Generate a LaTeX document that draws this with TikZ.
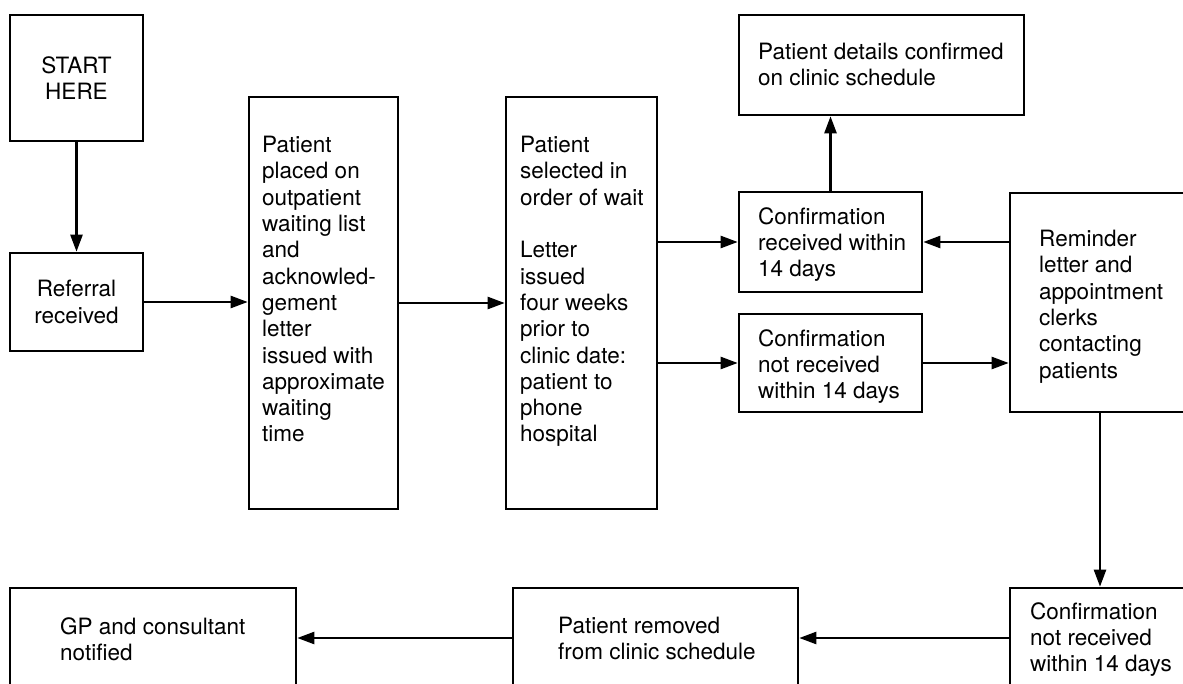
\documentclass[tikz,border=0pt]{standalone}
\usepackage{fontspec}
\setmainfont{TeX Gyre Heros}
\usetikzlibrary{arrows.meta}
\begin{document}
\begin{tikzpicture}[x=1pt,y=-1pt,
  box/.style={draw, line width=2.6pt, inner sep=0pt, rectangle},
  txt/.style={anchor=north west, align=left, inner sep=0pt, font=\fontsize{22.5}{26.3}\selectfont},
  ctxt/.style={align=center, font=\fontsize{22.5}{26.3}\selectfont},
  conn/.style={line width=2.4pt, -{Triangle[length=17pt,width=12pt]}}]
\useasboundingbox (0,0) rectangle (1183,684);
\fill[white] (0,0) rectangle (1183,684);
\clip (0,0) rectangle (1183,684);

% boxes
\node[box, ctxt, minimum width=133pt, minimum height=126pt] (start) at (76.5,78) {START\\HERE};
\node[box, ctxt, minimum width=133pt, minimum height=98pt] (ref) at (76.5,302) {Referral\\received};
\node[box, minimum width=149pt, minimum height=412pt] (placed) at (323.5,303) {};
\node[box, minimum width=151pt, minimum height=412pt] (sel) at (581.5,303) {};
\node[box, minimum width=285pt, minimum height=100pt] (details) at (881.5,65) {};
\node[box, minimum width=183pt, minimum height=100pt] (rec) at (830.5,242) {};
\node[box, minimum width=183pt, minimum height=98pt] (notrec) at (830.5,363) {};
\node[box, minimum width=180pt, minimum height=219pt] (rem) at (1100,302.5) {};
\node[box, minimum width=180pt, minimum height=100pt] (conf3) at (1100,638) {};
\node[box, minimum width=285pt, minimum height=100pt] (removed) at (655.5,638) {};
\node[box, minimum width=286pt, minimum height=100pt] (gp) at (153,638) {};

% texts
\node[txt] (placedtxt) at (262,136) {Patient\\placed on\\outpatient\\waiting list\\and\\acknowled-\\gement\\letter\\issued with\\approximate\\waiting\\time};
\node[txt] (seltxt) at (520,136) {Patient\\selected in\\order of wait\\[26.3pt]Letter\\issued\\four weeks\\prior to\\clinic date:\\patient to\\phone\\hospital};
\node[txt] (detailstxt) at (758,43) {Patient details confirmed\\on clinic schedule};
\node[txt] (rectxt) at (758,207) {Confirmation\\received within\\14 days};
\node[txt] (notrectxt) at (758,329) {Confirmation\\not received\\within 14 days};
\node[txt] (remtxt) at (1039,230) {Reminder\\letter and\\appointment\\clerks\\contacting\\patients};
\node[txt] (conf3txt) at (1030,602) {Confirmation\\not received\\within 14 days};
\node[txt] (removedtxt) at (558,617) {Patient removed\\from clinic schedule};
\node[txt] (gptxt) at (60,617) {GP and consultant\\notified};

% connectors
\draw[conn] (start.south) -- (ref.north);
\draw[conn] (ref.east) -- (ref.east -| placed.west);
\draw[conn] (placed.east) -- (sel.west);
\draw[conn] (rec.west -| sel.east) -- (rec.west);
\draw[conn] (notrec.west -| sel.east) -- (notrec.west);
\draw[conn] (rec.north) -- (rec.north |- details.south);
\draw[conn] (rem.west |- rec.east) -- (rec.east);
\draw[conn] (notrec.east) -- (notrec.east -| rem.west);
\draw[conn] (rem.south) -- (conf3.north);
\draw[conn] (conf3.west) -- (removed.east);
\draw[conn] (removed.west) -- (gp.east);
\end{tikzpicture}
\end{document}
